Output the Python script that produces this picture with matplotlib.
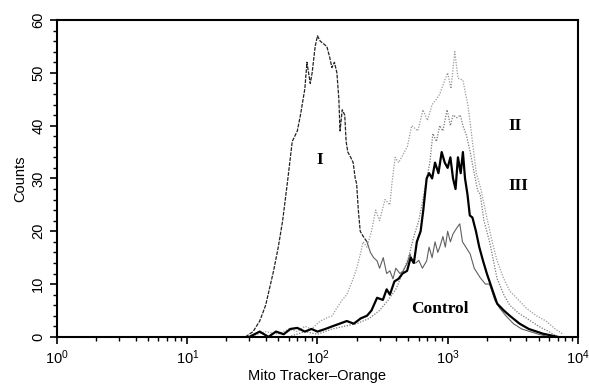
import matplotlib
matplotlib.use('Agg')
import matplotlib.pyplot as plt
from matplotlib.ticker import LogLocator, MultipleLocator

plt.rcParams['font.family'] = ['Liberation Sans', 'DejaVu Sans']

# curve I (peak near 10^2)
x_I = [28, 32, 36, 40, 46, 50, 54, 59, 64, 70, 74, 80, 83, 88, 91, 96, 100, 105, 110, 118,
       124, 129, 135, 141, 146, 149, 155, 162, 166, 171, 180, 188, 195, 200, 206, 213, 225, 240]
y_I = [0, 1, 3, 6, 12.5, 17, 22, 29.6, 37, 39, 42, 47, 52, 48, 50, 55, 57, 56, 55.6, 55,
       53, 51, 52, 50, 45, 39, 43, 42, 37, 35, 34, 33, 30, 29, 24, 20, 19, 18]

# control
x_ctrl = [240, 255, 270, 287, 300, 320, 340, 360, 380, 400, 430, 455, 490, 514, 540, 570, 600,
          640, 690, 720, 760, 800, 840, 870, 920, 960, 1000, 1050, 1100, 1180, 1240, 1300, 1380,
          1490, 1600, 1780, 1950, 2100, 2300, 2500, 2800, 3200, 3700, 4300, 5000, 6000]
y_ctrl = [18, 16, 15, 14.4, 13, 15, 12, 12.5, 11, 13, 12, 12.5, 14, 15.7, 14, 14, 14.5,
          13, 14.4, 17, 15, 18, 16, 17, 19, 17, 20, 18, 19.5, 20.7, 21.4, 18, 17,
          15.7, 13, 11.2, 10, 10, 7, 5.5, 4, 2.5, 1.5, 1, 0.5, 0]

# curve II (two dotted traces)
x_IIa = [30, 40, 50, 60, 70, 80, 90, 105, 118, 130, 141, 155, 168, 188, 200, 215, 224, 240, 260,
         280, 300, 330, 360, 373, 395, 420, 458, 490, 530, 590, 646, 700, 760, 820, 870, 930,
         1000, 1060, 1135, 1200, 1310, 1440, 1550, 1660, 1800, 2000, 2200, 2400, 2700, 3000,
         3500, 4000, 4800, 5700, 6700, 7600]
y_IIa = [0, 1, 0.5, 1.5, 1, 2, 1.5, 3, 3.6, 4, 5.5, 7, 8, 11, 13, 16, 18, 17, 20,
         24, 22, 26, 25, 29, 34, 33, 34.7, 36, 40, 39, 43, 41, 44, 45, 46, 48,
         50, 47, 54, 49, 48.6, 43.5, 37, 31, 28, 22.6, 18, 14.4, 11, 8.7,
         7, 5.5, 4, 3, 1.5, 0.6]

x_IIb = [60, 80, 100, 130, 160, 200, 250, 300, 350, 400, 450, 500, 550, 600, 646, 690, 730, 770,
         820, 870, 920, 990, 1050, 1100, 1180, 1250, 1310, 1400, 1490, 1600, 1700, 1780, 1900,
         2100, 2400, 2700, 3000, 3500, 4000, 5000, 6000, 7000]
y_IIb = [0, 1, 0.5, 1.5, 2, 2.5, 3.5, 5, 7, 9, 12, 15, 19, 22, 26, 30, 33, 38.5,
         37, 40, 39, 43, 40, 42, 41.5, 42, 40, 38, 35, 31, 27.7, 27, 22,
         18, 11, 8, 6, 4.5, 3.6, 2, 1, 0]

# curve III (bold)
x_III = [30, 36, 42, 48, 55, 62, 70, 80, 90, 100, 115, 130, 148, 168, 190, 215, 240, 260, 287,
         318, 340, 360, 390, 420, 450, 488, 520, 550, 580, 620, 650, 690, 720, 760, 800, 850,
         900, 950, 1000, 1050, 1100, 1150, 1200, 1260, 1310, 1360, 1420, 1480, 1550, 1650,
         1750, 1870, 2000, 2200, 2400, 2700, 3000, 3570, 4200, 5400, 7000]
y_III = [0, 1, 0, 1, 0.5, 1.5, 1.7, 1, 1.5, 1, 1.5, 2, 2.5, 3, 2.5, 3.5, 4, 5, 7.4,
         7, 9, 8, 10.5, 11, 12, 12.5, 15, 14, 18, 20, 24, 30, 31, 30, 33, 31,
         35, 33, 32, 34, 30, 28, 34, 31, 35, 30, 27, 23, 22.6, 20,
         17, 14.4, 12, 9, 6.3, 5, 4, 2.5, 1.5, 0.6, 0]

fig = plt.figure(figsize=(5.89, 3.85), dpi=100)
ax = fig.add_axes([0.097, 0.125, 0.884, 0.823])

ax.plot(x_IIa, y_IIa, color='#9a9a9a', lw=0.9, ls=(0, (1, 1.2)))
ax.plot(x_IIb, y_IIb, color='#7a7a7a', lw=0.9, ls=(0, (1, 1.2)))
ax.plot(x_ctrl, y_ctrl, color='#606060', lw=0.8)
ax.plot(x_I, y_I, color='#222222', lw=0.9, ls=(0, (3, 1)))
ax.plot(x_III, y_III, color='black', lw=1.6)

ax.set_xscale('log')
ax.set_xlim(1, 10000)
ax.set_ylim(0, 60)
ax.xaxis.set_major_locator(LogLocator(base=10, numticks=10))
ax.xaxis.set_minor_locator(LogLocator(base=10, subs=range(2, 10), numticks=50))
ax.yaxis.set_major_locator(MultipleLocator(10))
ax.yaxis.set_minor_locator(MultipleLocator(2))
ax.tick_params(which='major', direction='out', length=5, width=1.2, labelsize=10.5)
ax.tick_params(which='minor', direction='out', length=3, width=1)
for lbl in ax.get_yticklabels():
    lbl.set_rotation(90)
    lbl.set_va('center')
for s in ax.spines.values():
    s.set_linewidth(1.5)

ax.set_xlabel('Mito Tracker\u2013Orange', fontsize=10.5, labelpad=1)
ax.set_ylabel('Counts', fontsize=10.5, labelpad=3)

lab = dict(family='Liberation Serif', fontweight='bold', fontsize=12.5, ha='center', va='center')
ax.text(105, 33.5, 'I', **lab)
ax.text(3300, 40, 'II', **lab)
ax.text(3500, 28.5, 'III', **lab)
ax.text(870, 5.3, 'Control', **lab)

fig.savefig('out.png', dpi=100)
